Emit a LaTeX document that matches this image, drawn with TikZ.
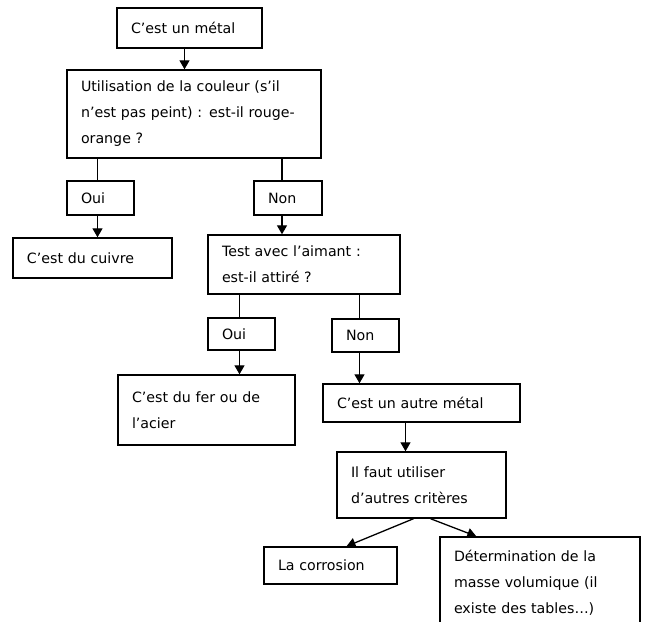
\documentclass[tikz,border=0pt]{standalone}
\usepackage{fontspec}
\setmainfont{DejaVu Sans}
\usetikzlibrary{arrows.meta}

\begin{document}
\begin{tikzpicture}[x=1pt, y=-1pt,
  box/.style={draw, line width=1.4pt, align=left, inner xsep=14pt, inner ysep=0pt,
    font=\fontsize{14.2}{26}\selectfont},
  fleche/.style={line width=1.3pt, -{Triangle[length=9pt, width=10pt]}},
  trait/.style={line width=1.3pt}]
  \useasboundingbox (0,0) rectangle (647,621);

  \node[box, text width=117pt, minimum height=40pt] (metal) at (189.5,28) {C'est un métal};
  \node[box, text width=226pt, minimum height=88pt] (couleur) at (194,114)
    {Utilisation de la couleur (s'il\\n'est pas peint) : est-il rouge-\\orange ?};
  \node[box, text width=39pt, minimum height=34pt] (oui) at (100.5,198) {Oui};
  \node[box, text width=40pt, minimum height=34pt] (non) at (288,198) {Non};
  \node[box, text width=131pt, minimum height=40pt] (cuivre) at (92.5,258) {C'est du cuivre};
  \node[box, text width=164pt, minimum height=59pt] (aimant) at (304,264.5)
    {Test avec l'aimant :\\est-il attiré ?};
  \node[box, text width=39pt, minimum height=32pt] (ouibis) at (241.5,334) {Oui};
  \node[box, text width=39pt, minimum height=33pt] (nonbis) at (365.5,335.5) {Non};
  \node[box, text width=149pt, minimum height=70pt] (fer) at (206.5,410)
    {C'est du fer ou de\\l'acier};
  \node[box, text width=169pt, minimum height=38pt] (autre) at (421.5,403) {C'est un autre métal};
  \node[box, text width=141pt, minimum height=66pt] (criteres) at (421.5,485)
    {Il faut utiliser\\d'autres critères};
  \node[box, text width=105pt, minimum height=37pt] (corrosion) at (330.5,565.5) {La corrosion};
  \node[box, text width=172pt, minimum height=92pt] (masse) at (540,583)
    {Détermination de la\\masse volumique (il\\existe des tables\dots)};

  \draw[fleche] ([xshift=-5pt]metal.south) -- ([xshift=-5pt]metal.south |- couleur.north);
  \draw[trait] ([xshift=-3pt]oui.north) -- ([xshift=-3pt]oui.north |- couleur.south);
  \draw[trait] ([xshift=-6pt]non.north) -- ([xshift=-6pt]non.north |- couleur.south);
  \draw[fleche] ([xshift=-3pt]oui.south) -- ([xshift=-3pt]oui.south |- cuivre.north);
  \draw[fleche] ([xshift=-6pt]non.south) -- ([xshift=-6pt]non.south |- aimant.north);
  \draw[trait] ([xshift=-2pt]ouibis.north) -- ([xshift=-2pt]ouibis.north |- aimant.south);
  \draw[trait] ([xshift=-6pt]nonbis.north) -- ([xshift=-6pt]nonbis.north |- aimant.south);
  \draw[fleche] ([xshift=-2pt]ouibis.south) -- ([xshift=-2pt]ouibis.south |- fer.north);
  \draw[fleche] ([xshift=-6pt]nonbis.south) -- ([xshift=-6pt]nonbis.south |- autre.north);
  \draw[fleche] ([xshift=-16pt]autre.south) -- ([xshift=-16pt]autre.south |- criteres.north);
  \draw[fleche] ([xshift=-8pt]criteres.south) -- ([xshift=16pt]corrosion.north);
  \draw[fleche] ([xshift=9pt]criteres.south) -- ([xshift=37pt]masse.north west);
\end{tikzpicture}
\end{document}
